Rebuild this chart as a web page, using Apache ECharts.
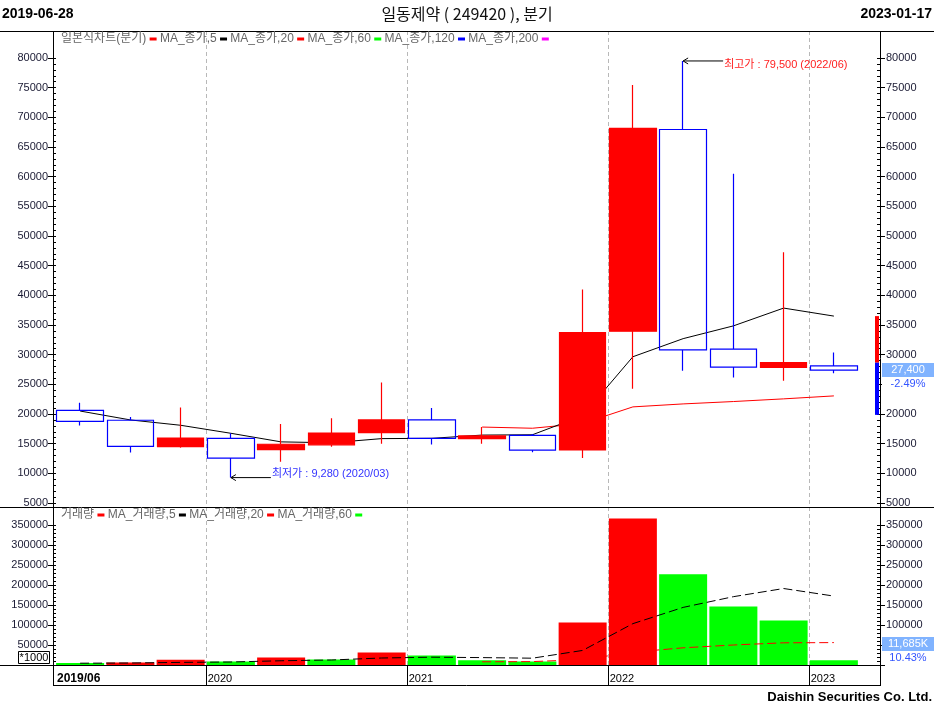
<!DOCTYPE html>
<html><head><meta charset="utf-8">
<script src="https://cdn.jsdelivr.net/npm/echarts@6/dist/echarts.min.js"></script>
<style>html,body{margin:0;padding:0;background:#fff}#c{width:934px;height:709px}</style>
</head><body><div id="c"></div>
<script>
// ---------------- data ----------------
const quarters = ['2019/06','2019/09','2019/12','2020/03','2020/06','2020/09','2020/12','2021/03','2021/06','2021/09','2021/12','2022/03','2022/06','2022/09','2022/12','2023/01'];
const opens  = [20600, 18950, 14500, 15900, 14000, 14800, 16850, 19000, 15850, 16400, 13950, 33950, 67950, 30950, 27850, 28100];
const closes = [18750, 14550, 15950, 12550, 14900, 16800, 19000, 15900, 16300, 13900, 33700, 68150, 30800, 27900, 28650, 27400];
const lows   = [18050, 13500, 14300,  9280, 11950, 14500, 15000, 14850, 15000, 13550, 12600, 24250, 27300, 26150, 25600, 26850];
const highs  = [21900, 19500, 21100, 16750, 18300, 19300, 25300, 21000, 17800, 16650, 41000, 75450, 79500, 60500, 47250, 30350];
const ma5Close  = [20500, 19000, 18100, 16750, 15300, 15150, 15850, 15900, 16450, 16500, 19700, 29650, 32700, 34850, 37850, 36500];
const ma20Close = [null, null, null, null, null, null, null, null, 17800, 17600, 18400, 21200, 21700, 22100, 22550, 23050];
const volumes   = [5000, 6000, 13000, 9000, 19000, 14000, 31000, 24000, 12000, 9000, 106000, 366000, 227000, 146000, 111000, 11685];
const volMa5    = [4500, 5000, 6500, 7500, 10600, 12500, 17500, 19500, 18500, 17000, 36400, 103400, 144000, 170800, 191200, 172300];
const volMa20   = [null, null, null, null, null, null, null, null, 8000, 8500, 13500, 32000, 43000, 50000, 55500, 56000];
const boundaryLabels = ['2019/06','','','2020','','','','2021','','','','2022','','','','2023',''];
const priceTicks = {min: 5000, max: 80000, step: 5000, minor: 1000};
const volTicks   = {min: 0, max: 350000, step: 50000, minor: 10000};
const sideRange = [36500, 28650, 19850];
const changePct = '-2.49%';
const volPct = '10.43%';
const titleText = '일동제약 ( 249420 ), 분기';
const startDate = '2019-06-28';
const endDate = '2023-01-17';

// ---------------- layout ----------------
const W = 934, H = 709;
const FL = 53, FR = 880, CL = 55, CR = 859;
const P_FT = 31, P_FB = 507, P_LT = 58, P_LB = 503;
const V_FT = 507, V_FB = 665, V_LT = 525, D_B = 685;
const pScale = (priceTicks.max - priceTicks.min) / (P_LB - P_LT);
const PMAX = priceTicks.max + (P_LT - P_FT) * pScale;
const PMIN = priceTicks.min - (P_FB - P_LB) * pScale;
const vScale = (volTicks.max - volTicks.min) / (V_FB - V_LT);
const VMAX = (V_FB - V_FT) * vScale;

const FONT = '"Liberation Sans", Arial, sans-serif';
const KFONT = '"Liberation Sans", "Noto Sans CJK KR", sans-serif';
const RED = '#ff0000', BLUE = '#0000ff', GREEN = '#00ff00';
const LABEL_COLOR = '#1a1a33';
const isYear = i => i > 0 && boundaryLabels[i] !== '';
const fmt = v => v.toLocaleString('en-US');

const chart = echarts.init(document.getElementById('c'));

const hiddenCat = g => ({type: 'category', gridIndex: g, data: quarters, show: false, boundaryGap: true});
const dashed = {show: true, interval: (i) => isYear(i), lineStyle: {color: '#b8b8b8', type: [4, 3], width: 1}};
const labAxis = (g, pos, spec) => ({
  type: 'value', gridIndex: g, position: pos, min: spec.min, max: spec.max, interval: spec.step,
  axisLine: {show: false}, axisTick: {show: true, length: 5, lineStyle: {color: '#000'}},
  splitLine: {show: false},
  axisLabel: {margin: pos === 'left' ? 5 : 6, fontSize: 11, fontFamily: FONT, color: LABEL_COLOR, formatter: v => v === 0 ? '' : String(v)}
});
const minorAxis = (g, pos, spec) => ({
  type: 'value', gridIndex: g, position: pos, min: spec.min, max: spec.max, interval: spec.minor,
  axisLine: {show: false}, axisTick: {show: true, inside: true, length: 3, lineStyle: {color: '#000'}},
  axisLabel: {show: false}, splitLine: {show: false}
});

const option = {
  animation: false,
  backgroundColor: '#fff',
  grid: [
    {left: CL, right: W - CR, top: P_FT, bottom: H - P_FB},
    {left: FL, right: W - FR, top: P_LT, bottom: H - P_LB},
    {left: CL, right: W - CR, top: V_FT, bottom: H - V_FB},
    {left: FL, right: W - FR, top: V_LT, bottom: H - V_FB}
  ],
  xAxis: [
    hiddenCat(0),
    {type: 'category', gridIndex: 0, position: 'bottom', data: boundaryLabels, boundaryGap: false,
     axisLine: {show: false}, axisTick: {show: false}, axisLabel: {show: false}, splitLine: dashed},
    {type: 'value', gridIndex: 1, show: false},
    hiddenCat(2),
    {type: 'category', gridIndex: 2, position: 'bottom', data: boundaryLabels, boundaryGap: false,
     axisLine: {show: false},
     axisTick: {show: true, length: 20, interval: (i) => isYear(i), lineStyle: {color: '#000'}},
     axisLabel: {show: true, interval: 0, align: 'left', margin: 8, fontSize: 11, fontFamily: FONT, color: '#000',
       padding: [0, 0, 0, 2],
       formatter: (v, i) => v === '' ? '' : (i === 0 ? '{b|' + v + '}' : v),
       rich: {b: {fontWeight: 'bold', fontSize: 12, fontFamily: FONT, color: '#000'}}},
     splitLine: dashed},
    {type: 'value', gridIndex: 3, show: false}
  ],
  yAxis: [
    {type: 'value', gridIndex: 0, position: 'left', min: PMIN, max: PMAX, show: false},
    labAxis(1, 'left', priceTicks),
    labAxis(1, 'right', priceTicks),
    minorAxis(1, 'left', priceTicks),
    minorAxis(1, 'right', priceTicks),
    {type: 'value', gridIndex: 2, position: 'left', min: 0, max: VMAX, show: false},
    labAxis(3, 'left', volTicks),
    labAxis(3, 'right', volTicks),
    minorAxis(3, 'left', volTicks),
    minorAxis(3, 'right', volTicks)
  ],
  series: [
    {type: 'line', xAxisIndex: 0, yAxisIndex: 0, data: ma20Close, symbol: 'none', silent: true,
     lineStyle: {color: RED, width: 1}, z: 2},
    {type: 'line', xAxisIndex: 0, yAxisIndex: 0, data: ma5Close, symbol: 'none', silent: true,
     lineStyle: {color: '#000', width: 1}, z: 2},
    {type: 'candlestick', xAxisIndex: 0, yAxisIndex: 0, barWidth: 47, z: 3,
     data: quarters.map((q, i) => [opens[i], closes[i], lows[i], highs[i]]),
     itemStyle: {color: RED, color0: 'rgba(0,0,0,0)', borderColor: RED, borderColor0: BLUE, borderWidth: 1.2}},
    {type: 'bar', xAxisIndex: 3, yAxisIndex: 5, barWidth: 48, z: 2,
     data: volumes.map((v, i) => ({value: v, itemStyle: {color: (i > 0 && v > volumes[i - 1]) ? RED : GREEN}}))},
    {type: 'line', xAxisIndex: 3, yAxisIndex: 5, data: volMa5, symbol: 'none', silent: true,
     lineStyle: {color: '#000', width: 1, type: [9, 4]}, z: 4},
    {type: 'line', xAxisIndex: 3, yAxisIndex: 5, data: volMa20, symbol: 'none', silent: true,
     lineStyle: {color: RED, width: 1, type: [9, 4]}, z: 4}
  ]
};
chart.setOption(option);

// ---------------- annotations (positions from the chart's own scales) ----------------
const px = (i, v) => chart.convertToPixel({xAxisIndex: 0, yAxisIndex: 0}, [i, v]);
const g = [];
const line = (x1, y1, x2, y2, c, w) => g.push({type: 'line', silent: true, z: 100,
  shape: {x1, y1, x2, y2}, style: {stroke: c || '#000', lineWidth: w || 1}});
const text = (x, y, t, font, fill, align, extra) => g.push(Object.assign({type: 'text', z: 101, x, y,
  style: Object.assign({text: t, font, fill, textAlign: align || 'left', textVerticalAlign: 'middle'}, extra || {})}));

// header / footer
text(2, 14, startDate, 'bold 14px ' + FONT, '#000', 'left');
text(932, 14, endDate, 'bold 14px ' + FONT, '#000', 'right');
text(467, 14, titleText, '16px "Noto Sans CJK KR", ' + FONT, '#111', 'center');
text(932, 697, 'Daishin Securities Co. Ltd.', 'bold 13px ' + FONT, '#000', 'right');

// frame
line(0, P_FT + 0.5, W, P_FT + 0.5);
line(0, P_FB + 0.5, W, P_FB + 0.5);
line(0, V_FB + 0.5, FR, V_FB + 0.5);
line(FL, D_B + 0.5, FR, D_B + 0.5);
line(FL + 0.5, P_FT, FL + 0.5, D_B + 1);
line(FR + 0.5, P_FT, FR + 0.5, D_B + 1);

// legends
const markers = {
  r: {width: 7, height: 3, backgroundColor: RED},
  k: {width: 7, height: 3, backgroundColor: '#000'},
  g: {width: 7, height: 3, backgroundColor: GREEN},
  b: {width: 7, height: 3, backgroundColor: BLUE},
  m: {width: 7, height: 3, backgroundColor: '#ff00ff'}
};
text(61, 39, '일본식차트(분기) {r|} MA_종가,5 {k|} MA_종가,20 {r|} MA_종가,60 {g|} MA_종가,120 {b|} MA_종가,200 {m|}',
  '12px ' + KFONT, '#666', 'left', {rich: markers});
text(61, 515, '거래량 {r|} MA_거래량,5 {k|} MA_거래량,20 {r|} MA_거래량,60 {g|}',
  '12px ' + KFONT, '#666', 'left', {rich: markers});

// *1000 box
g.push({type: 'rect', z: 100, shape: {x: 18.5, y: 651.5, width: 31, height: 12}, style: {fill: '#fff', stroke: '#000', lineWidth: 1}});
text(34, 658, '*1000', '11px ' + FONT, '#000', 'center');

// highest / lowest annotations
const hiIdx = highs.indexOf(Math.max(...highs));
const loIdx = lows.indexOf(Math.min(...lows));
const hp = px(hiIdx, highs[hiIdx]);
const lp = px(loIdx, lows[loIdx]);
function arrow(p) {
  line(p[0], p[1], p[0] + 40, p[1], '#000');
  g.push({type: 'polyline', z: 100, shape: {points: [[p[0] + 5, p[1] - 3], [p[0], p[1]], [p[0] + 5, p[1] + 3]]}, style: {stroke: '#000', fill: null, lineWidth: 1}});
}
arrow(hp); arrow(lp);
text(hp[0] + 41, hp[1] + 4, '최고가 : ' + fmt(highs[hiIdx]) + ' (' + quarters[hiIdx] + ')', '11px ' + KFONT, '#ff2020', 'left');
text(lp[0] + 41, lp[1] - 4, '최저가 : ' + fmt(lows[loIdx]) + ' (' + quarters[loIdx] + ')', '11px ' + KFONT, '#3333ff', 'left');

// side range bar
const s0 = px(0, sideRange[0])[1], s1 = px(0, sideRange[1])[1], s2 = px(0, sideRange[2])[1];
g.push({type: 'rect', z: 100, shape: {x: 875, y: s0, width: 4, height: s1 - s0}, style: {fill: RED}});
g.push({type: 'rect', z: 100, shape: {x: 875, y: s1, width: 4, height: s2 - s1}, style: {fill: BLUE}});

// last close label
const last = closes.length - 1;
const cy = px(last, closes[last])[1];
g.push({type: 'rect', z: 100, shape: {x: 882, y: cy - 7, width: 52, height: 14}, style: {fill: '#80b3ff'}});
g.push({type: 'rect', z: 100, shape: {x: 882, y: cy + 7, width: 52, height: 14}, style: {fill: '#fff'}});
text(908, cy, fmt(closes[last]), '11px ' + FONT, '#fff', 'center');
text(908, cy + 14, changePct, '11px ' + FONT, '#3355ff', 'center');

// last volume label
const vy = V_FB - 21;
g.push({type: 'rect', z: 100, shape: {x: 882, y: vy - 7, width: 52, height: 14}, style: {fill: '#80b3ff'}});
g.push({type: 'rect', z: 100, shape: {x: 882, y: vy + 7, width: 52, height: 13}, style: {fill: '#fff'}});
text(908, vy, fmt(volumes[last]) + 'K', '11px ' + FONT, '#fff', 'center');
text(908, vy + 14, volPct, '11px ' + FONT, '#3355ff', 'center');

chart.setOption({graphic: g});
</script>
</body></html>
